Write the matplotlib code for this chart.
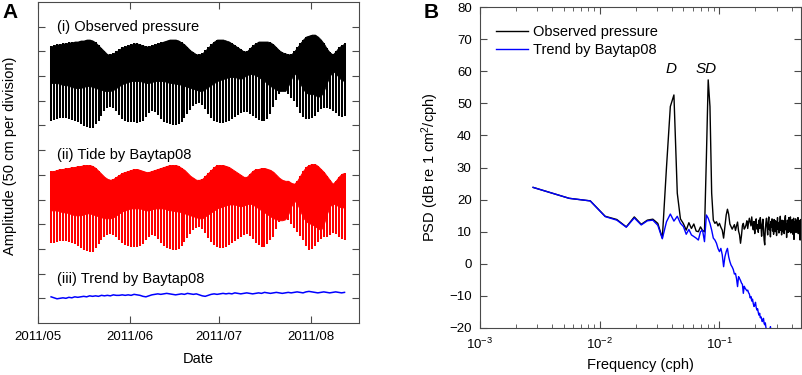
import datetime as dt
import numpy as np
import matplotlib
matplotlib.use("Agg")
import matplotlib.pyplot as plt
import matplotlib.dates as mdates
from matplotlib.ticker import LogLocator, NullFormatter, MultipleLocator

plt.rcParams['font.family'] = ['Liberation Sans', 'DejaVu Sans']
plt.rcParams['mathtext.fontset'] = 'custom'
plt.rcParams['mathtext.rm'] = 'Liberation Sans'
plt.rcParams['mathtext.it'] = 'Liberation Sans:italic'

# ---------------- Panel A data (daily envelopes, cm relative to each trace's mean) ----------------
start_date = dt.datetime(2011, 5, 5, 10)
n_days = 100

obs_high = [60, 62, 64, 64, 66, 66, 68, 68, 70, 70, 72, 72, 74, 74, 72, 68, 62, 56, 50, 44,
            44, 46, 50, 54, 58, 60, 62, 64, 66, 66, 64, 62, 60, 60, 62, 64, 66, 68, 70, 72,
            74, 74, 74, 72, 68, 64, 58, 52, 48, 44, 44, 46, 52, 58, 64, 70, 74, 74, 74, 72,
            70, 66, 62, 58, 54, 50, 50, 56, 62, 66, 70, 70, 70, 70, 68, 64, 58, 52, 48, 46,
            44, 44, 50, 58, 66, 74, 80, 82, 84, 84, 80, 74, 66, 56, 48, 44, 50, 58, 62, 66]
obs_hl = [-14, -14, -14, -16, -18, -18, -20, -22, -24, -24, -24, -22, -20, -20, -22, -24, -26, -28, -30, -30,
          -30, -28, -24, -20, -16, -14, -12, -10, -10, -10, -10, -12, -14, -14, -12, -10, -10, -10, -10, -12,
          -14, -14, -16, -16, -18, -20, -22, -24, -26, -28, -30, -30, -26, -22, -18, -14, -10, -8, -6, -4,
          -2, -2, -2, -4, -6, -2, 2, 4, 4, 2, -2, -6, -10, -16, -20, -24, -28, -30, -30, -30,
          -20, -6, 6, 0, -14, -26, -34, -36, -36, -38, -42, -40, -30, -14, 0, 10, 6, -2, -8, -10]
obs_low = [-90, -88, -86, -84, -84, -84, -86, -88, -90, -94, -98, -102, -104, -106, -106, -98, -90, -80, -70, -64,
           -62, -64, -70, -78, -86, -90, -92, -94, -94, -96, -94, -90, -82, -74, -70, -72, -78, -86, -92, -96,
           -98, -100, -100, -98, -92, -84, -76, -68, -60, -56, -54, -58, -66, -76, -84, -90, -94, -96, -96, -94,
           -90, -86, -82, -78, -74, -72, -72, -76, -80, -84, -88, -90, -90, -86, -76, -62, -48, -36, -30, -30,
           -36, -44, -50, -62, -74, -82, -86, -86, -84, -80, -72, -66, -64, -64, -66, -70, -74, -80, -82, -80]

tide_high = [58, 58, 60, 62, 62, 64, 64, 66, 66, 68, 68, 70, 70, 70, 68, 64, 58, 52, 46, 42,
             40, 42, 46, 50, 54, 56, 58, 60, 62, 62, 60, 58, 56, 56, 58, 60, 62, 64, 66, 68,
             70, 70, 70, 68, 64, 60, 54, 48, 44, 40, 40, 42, 48, 54, 60, 66, 70, 70, 70, 68,
             66, 62, 58, 54, 50, 46, 46, 52, 58, 62, 62, 64, 64, 62, 60, 56, 50, 44, 40, 38,
             38, 34, 32, 38, 48, 58, 66, 70, 72, 72, 68, 62, 56, 48, 40, 32, 38, 46, 52, 54]
tide_hl = [-22, -22, -22, -24, -26, -26, -28, -30, -32, -32, -32, -30, -28, -28, -30, -32, -34, -36, -38, -38,
           -38, -36, -32, -28, -24, -22, -20, -18, -18, -18, -18, -20, -22, -22, -20, -18, -18, -18, -18, -20,
           -22, -22, -24, -24, -26, -28, -30, -32, -34, -36, -38, -38, -34, -30, -26, -22, -18, -16, -14, -12,
           -10, -10, -10, -12, -14, -12, -10, -8, -10, -14, -18, -22, -26, -30, -34, -38, -40, -42, -42, -40,
           -30, -14, -2, -8, -22, -36, -44, -48, -50, -54, -58, -62, -50, -30, -14, -8, -10, -14, -16, -16]
tide_low = [-88, -88, -86, -84, -84, -84, -86, -88, -90, -94, -98, -102, -104, -106, -106, -98, -90, -82, -76, -72,
            -70, -72, -76, -82, -88, -92, -94, -96, -96, -96, -94, -90, -82, -76, -72, -74, -80, -88, -94, -98,
            -100, -102, -102, -100, -94, -86, -78, -70, -62, -58, -56, -60, -68, -78, -86, -92, -96, -98, -98, -96,
            -92, -88, -84, -80, -76, -72, -70, -74, -80, -88, -92, -96, -96, -90, -82, -76, -60, -46, -42, -40,
            -42, -50, -58, -66, -74, -82, -94, -102, -100, -94, -86, -80, -76, -76, -72, -68, -70, -76, -80, -82]

trend = [3, 1, -1, 0, 1, 0, 2, 1, 3, 2, 3, 4, 3, 5, 4, 5, 4, 6, 5, 6,
         5, 7, 6, 6, 7, 6, 7, 6, 8, 7, 6, 4, 3, 5, 7, 8, 9, 8, 9, 10,
         9, 8, 7, 8, 9, 8, 10, 9, 8, 9, 7, 5, 4, 6, 8, 9, 8, 9, 10, 9,
         10, 9, 11, 10, 9, 10, 11, 10, 9, 10, 11, 10, 12, 11, 10, 11, 12, 11, 10, 11,
         12, 11, 12, 13, 12, 11, 13, 14, 13, 12, 11, 12, 13, 12, 11, 12, 13, 12, 11, 12]

labels_A = ["(i) Observed pressure", "(ii) Tide by Baytap08", "(iii) Trend by Baytap08"]

# ---------------- Panel B data (PSD in dB, frequencies k/360 cph) ----------------
segment_hours = 360
psd_obs = [23.8, 20.4, 19.6, 14.8, 13.8, 11.5, 14.6, 12.3, 13.6, 13.9,
           12.6, 8.0, 30.0, 49.0, 52.6, 22.0, 14.0, 12.5, 10.5, 12.8,
           11.0, 12.4, 10.2, 10.0, 11.5, 10.4, 10.0, 33.0, 57.3, 49.0,
           22.0, 13.6, 12.6, 13.1, 11.8, 12.6, 11.4, 10.5, 8.0, 11.6,
           15.2, 17.0, 15.4, 12.4, 11.6, 10.8, 11.5,
           12.2, 10.4, 11.8, 13.0, 10.2, 9.0, 6.4, 8.8, 11.9, 12.6, 10.8, 11.3, 12.1,
           13.4, 11.0, 12.8, 14.2, 13.0, 11.8, 14.6, 12.0, 10.6, 13.2, 9.4, 12.6, 14.0, 10.8, 12.2,
           9.8, 13.6, 11.0, 14.4, 12.2, 8.6, 11.8, 13.9, 10.4, 7.4, 5.9, 10.8, 12.9, 14.2, 11.2,
           9.0, 12.8, 14.6, 10.6, 12.0, 8.4, 13.2, 11.4, 14.0, 10.2, 12.6, 9.2, 13.8, 11.6, 10.0,
           13.4, 12.2, 8.8, 11.6, 14.4, 10.8, 12.4, 9.6, 13.0, 11.8, 14.8, 10.4, 12.0, 9.0, 13.6,
           11.2, 10.0, 13.4, 12.6, 9.4, 11.8, 14.2, 15.0, 10.6, 12.4, 8.2, 11.0, 13.6, 12.0, 9.8,
           12.8, 14.4, 11.2, 10.0, 13.2, 14.6, 9.6, 11.8, 12.6, 10.4, 13.8, 11.0, 9.2, 12.4, 14.2,
           7.6, 11.4, 13.0, 10.8, 12.6, 14.0, 9.8, 11.6, 13.4, 10.2, 12.8, 11.0, 14.4, 9.4, 12.2,
           13.6, 10.6, 11.8, 8.8, 7.4, 12.4, 13.8, 10.0, 11.6, 12.4, 9.6, 13.0, 11.2, 10.4, 12.0]
psd_trend = [23.8, 20.4, 19.6, 14.7, 13.6, 11.4, 14.3, 12.1, 13.4, 13.6,
             12.0, 7.8, 13.1, 15.5, 13.3, 14.8, 12.6, 11.6, 9.2, 10.7,
             9.0, 8.5, 8.0, 7.4, 10.0, 10.5, 6.9, 15.2, 14.2, 12.6,
             10.5, 8.0, 7.4, 6.4, 4.8, 3.8, 4.8, 2.8, -0.9, 2.2,
             3.8, 4.8, 2.2, 0.7, -0.4,
             -1.0, -1.8, -3.2, -3.0, -4.6, -7.1, -4.0, -4.6, -5.2, -6.0, -6.4, -9.2, -7.0, -7.6, -8.0,
             -8.4, -8.2, -9.0, -9.4, -10.6, -10.2, -11.6, -11.0, -12.4, -13.3, -12.8, -12.0, -13.6, -14.4, -14.0,
             -15.2, -16.0, -15.4, -16.8, -16.5, -17.2, -18.0, -17.4, -17.0, -18.6, -19.0, -18.4, -19.8, -20.6, -21.2,
             -20.4, -21.8, -22.4, -21.0, -22.8, -19.6, -23.4, -24.0, -22.6, -24.8, -25.4, -24.2, -26.0, -26.8, -25.6,
             -27.4, -28.0, -27.2, -28.8, -29.4]

# ---------------- Figure ----------------
W, H = 803, 375
fig = plt.figure(figsize=(W / 100, H / 100), dpi=100)
spine_c = '#4a4a4a'

def px_axes(l, r, t, b):
    return fig.add_axes([l / W, 1 - b / H, (r - l) / W, (b - t) / H])

# ----- Panel A -----
axA = px_axes(38, 359, 2, 323)
dates = [start_date + dt.timedelta(days=i) for i in range(n_days)]
obs_base, tide_base, trend_base = 500, 250, 50

def tidal(ax, base, hi, hl, lo, color):
    hi = base + np.array(hi); hl = base + np.array(hl); lo = base + np.array(lo)
    ax.fill_between(dates, hl, hi, color=color, lw=0.6, edgecolor=color)
    ax.vlines(dates, lo, hi, color=color, lw=1.45)

tidal(axA, obs_base, obs_high, obs_hl, obs_low, 'black')
tidal(axA, tide_base, tide_high, tide_hl, tide_low, '#ff0000')
axA.plot(dates, trend_base + np.array(trend), color='#0000ff', lw=1.1)

axA.set_xlim(dt.datetime(2011, 5, 1), dt.datetime(2011, 5, 1) + dt.timedelta(days=108.3))
axA.set_ylim(0, 650)
axA.set_yticks(np.arange(50, 650, 50))
axA.set_yticklabels([])
axA.xaxis.set_major_locator(mdates.MonthLocator())
axA.xaxis.set_major_formatter(mdates.DateFormatter('%Y/%m'))
axA.tick_params(axis='both', direction='in', length=5, color=spine_c, top=True, right=True,
                labelsize=9.5, pad=6)
for s in axA.spines.values():
    s.set_color(spine_c)
axA.set_ylabel('Amplitude (50 cm per division)', fontsize=10.5, labelpad=6)
axA.yaxis.set_label_coords(-0.065, 0.52)
axA.set_xlabel('Date', fontsize=10.5, labelpad=6)
for lab, yf in zip(labels_A, [0.922, 0.523, 0.137]):
    axA.text(0.059, yf, lab, transform=axA.transAxes, fontsize=10.5, va='center', ha='left')
fig.text(10 / W, 1 - 12 / H, 'A', fontsize=15, fontweight='bold', ha='center', va='center')

# ----- Panel B -----
axB = px_axes(480, 801, 7, 328)
f_obs = np.arange(1, len(psd_obs) + 1) / segment_hours
f_tr = np.arange(1, len(psd_trend) + 1) / segment_hours
axB.plot(f_obs, psd_obs, color='black', lw=1.0, label='Observed pressure')
axB.plot(f_tr, psd_trend, color='#0000ff', lw=1.0, label='Trend by Baytap08')
axB.set_xscale('log')
axB.set_xlim(1e-3, 0.48)
axB.set_ylim(-20, 80)
axB.yaxis.set_major_locator(MultipleLocator(10))
axB.xaxis.set_major_locator(LogLocator(base=10, numticks=10))
axB.xaxis.set_minor_locator(LogLocator(base=10, subs=np.arange(2, 10), numticks=20))
axB.xaxis.set_minor_formatter(NullFormatter())
axB.tick_params(axis='both', which='major', direction='in', length=5, color=spine_c,
                top=True, right=True, labelsize=9.5, pad=6)
axB.tick_params(axis='both', which='minor', direction='in', length=3, color=spine_c,
                top=True, right=True)
for s in axB.spines.values():
    s.set_color(spine_c)
axB.set_ylabel('PSD (dB re 1 cm$^2$/cph)', fontsize=10.5, labelpad=6)
axB.set_xlabel('Frequency (cph)', fontsize=10.5, labelpad=5)
axB.text(0.0391, 60.7, 'D', fontsize=11, style='italic', ha='center', va='center')
axB.text(0.078, 60.7, 'SD', fontsize=11, style='italic', ha='center', va='center')
leg = axB.legend(loc='upper left', bbox_to_anchor=(0.05, 0.943), frameon=False, fontsize=10.5,
                 handlelength=2.2, handletextpad=0.35, labelspacing=0.25, borderpad=0,
                 borderaxespad=0)
fig.text(431 / W, 1 - 12 / H, 'B', fontsize=15, fontweight='bold', ha='center', va='center')

fig.savefig('out.png', dpi=100)
